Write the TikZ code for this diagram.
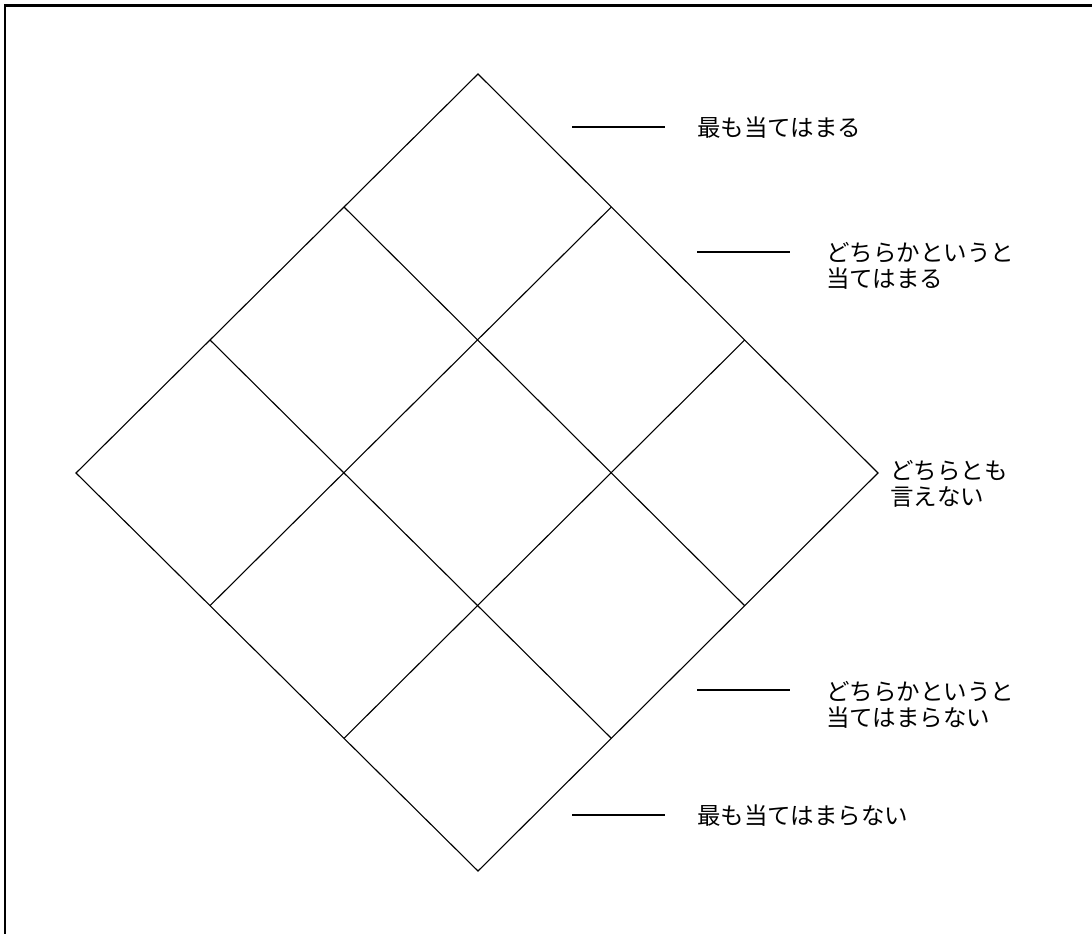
\documentclass[tikz,border=0pt]{standalone}
\usepackage{fontspec}
\usetikzlibrary{calc}
\newfontfamily\jpfont{Noto Sans CJK JP}
\begin{document}
\begin{tikzpicture}[x=1pt,y=-1pt,
  grid/.style={line width=1.1pt},
  tick/.style={line width=1.1pt},
  lbl/.style={anchor=west,align=left,inner sep=0pt,font=\jpfont\fontsize{23.5}{26}\selectfont}]
\useasboundingbox (0,0) rectangle (1092,934);
% frame (top and left only)
\draw[line width=2.4pt] (5,934) -- (5,5.5) -- (1092,5.5);
% diamond corners
\coordinate (T) at (478,74);
\coordinate (L) at (76,473);
\coordinate (R) at (878,473);
\coordinate (B) at (478,871);
\coordinate (TL1) at ($(T)!1/3!(L)$);
\coordinate (TL2) at ($(T)!2/3!(L)$);
\coordinate (TR1) at ($(T)!1/3!(R)$);
\coordinate (TR2) at ($(T)!2/3!(R)$);
\coordinate (BL1) at ($(L)!1/3!(B)$);
\coordinate (BL2) at ($(L)!2/3!(B)$);
\coordinate (BR1) at ($(R)!1/3!(B)$);
\coordinate (BR2) at ($(R)!2/3!(B)$);
\draw[grid] (T) -- (R) -- (B) -- (L) -- cycle;
\draw[grid] (TL1) -- (BR1);
\draw[grid] (TL2) -- (BR2);
\draw[grid] (TR1) -- (BL1);
\draw[grid] (TR2) -- (BL2);
% labels
\coordinate (a1) at (572,127); \coordinate (a2) at (665,127);
\coordinate (b1) at (697,252); \coordinate (b2) at (790,252);
\coordinate (d1) at (697,690); \coordinate (d2) at (790,690);
\coordinate (e1) at (572,815); \coordinate (e2) at (665,815);
\draw[tick] (a1) -- (a2);
\draw[tick] (b1) -- (b2);
\draw[tick] (d1) -- (d2);
\draw[tick] (e1) -- (e2);
\node[lbl] (la) at (697,128) {最も当てはまる};
\node[lbl] (lb) at (826,266) {どちらかというと\\当てはまる};
\node[lbl] (lc) at (890,484) {どちらとも\\言えない};
\node[lbl] (ld) at (826,705) {どちらかというと\\当てはまらない};
\node[lbl] (le) at (697,816) {最も当てはまらない};
\end{tikzpicture}
\end{document}
